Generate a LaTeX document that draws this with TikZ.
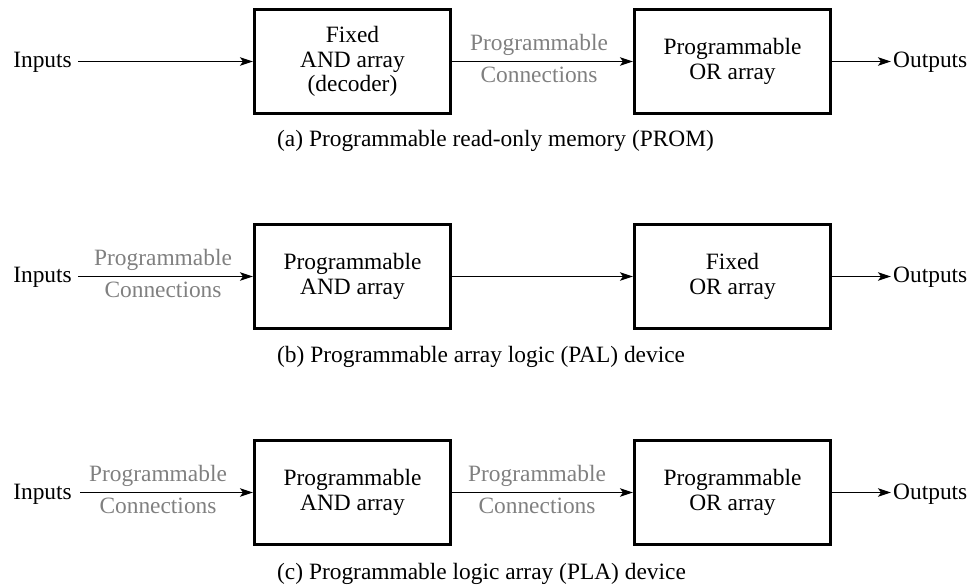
\documentclass[tikz,border=0pt]{standalone}
\usepackage{fontspec}
\setmainfont{Liberation Serif}
\usetikzlibrary{arrows.meta}
\begin{document}
\begin{tikzpicture}[x=1pt,y=-1pt,
 blk/.style={draw, line width=2.6pt, minimum width=196.4pt, minimum height=104.4pt, inner sep=0pt, align=center, font=\fontsize{23.4}{24.5}\selectfont},
 conn/.style={line width=1.3pt, -{Stealth[length=13pt,width=8.5pt,inset=3pt]}},
 lbl/.style={font=\fontsize{23.4}{24.5}\selectfont, inner sep=0pt},
 glbl/.style={lbl, text=black!50, anchor=base},
 captxt/.style={lbl, anchor=base west}]
\useasboundingbox (0,0) rectangle (971,585);

% ---------- (a) PROM ----------
\node[blk] (a1) at (352.5,61.5) {Fixed\\AND array\\(decoder)};
\node[blk] (a2) at (732.5,61.5) {Programmable\\OR array};
\node[lbl, anchor=base east] (ain) at (72,68) {Inputs};
\node[lbl, anchor=base west] (aout) at (893,68) {Outputs};
\draw[conn] ([xshift=6pt]ain.east |- a1.west) -- (a1.west);
\draw[conn] (a1.east) -- (a2.west);
\draw[conn] (a2.east) -- ([xshift=-2pt]aout.west |- a2.east);
\node[glbl] (ap) at (539,50.5) {Programmable};
\node[glbl] (ac) at (539,82.5) {Connections};
\node[captxt] (capa) at (277,147) {(a) Programmable read-only memory (PROM)};

% ---------- (b) PAL ----------
\node[blk] (b1) at (352.5,276.5) {Programmable\\AND array};
\node[blk] (b2) at (732.5,276.5) {Fixed\\OR array};
\node[lbl, anchor=base east] (bin) at (72,283) {Inputs};
\node[lbl, anchor=base west] (bout) at (893,283) {Outputs};
\draw[conn] ([xshift=6pt]bin.east |- b1.west) -- (b1.west);
\draw[conn] (b1.east) -- (b2.west);
\draw[conn] (b2.east) -- ([xshift=-2pt]bout.west |- b2.east);
\node[glbl] (bp) at (163,265.5) {Programmable};
\node[glbl] (bc) at (163,297.5) {Connections};
\node[captxt] (capb) at (277,362) {(b) Programmable array logic (PAL) device};

% ---------- (c) PLA ----------
\node[blk] (c1) at (352.5,492.5) {Programmable\\AND array};
\node[blk] (c2) at (732.5,492.5) {Programmable\\OR array};
\node[lbl, anchor=base east] (cin) at (72,499) {Inputs};
\node[lbl, anchor=base west] (cout) at (893,499) {Outputs};
\draw[conn] ([xshift=8pt]cin.east |- c1.west) -- (c1.west);
\draw[conn] (c1.east) -- (c2.west);
\draw[conn] (c2.east) -- ([xshift=-2pt]cout.west |- c2.east);
\node[glbl] (cp1) at (158,481.5) {Programmable};
\node[glbl] (cc1) at (158,513.5) {Connections};
\node[glbl] (cp2) at (537,481.5) {Programmable};
\node[glbl] (cc2) at (537,513.5) {Connections};
\node[captxt] (capc) at (277,579) {(c) Programmable logic array (PLA) device};
\end{tikzpicture}
\end{document}
